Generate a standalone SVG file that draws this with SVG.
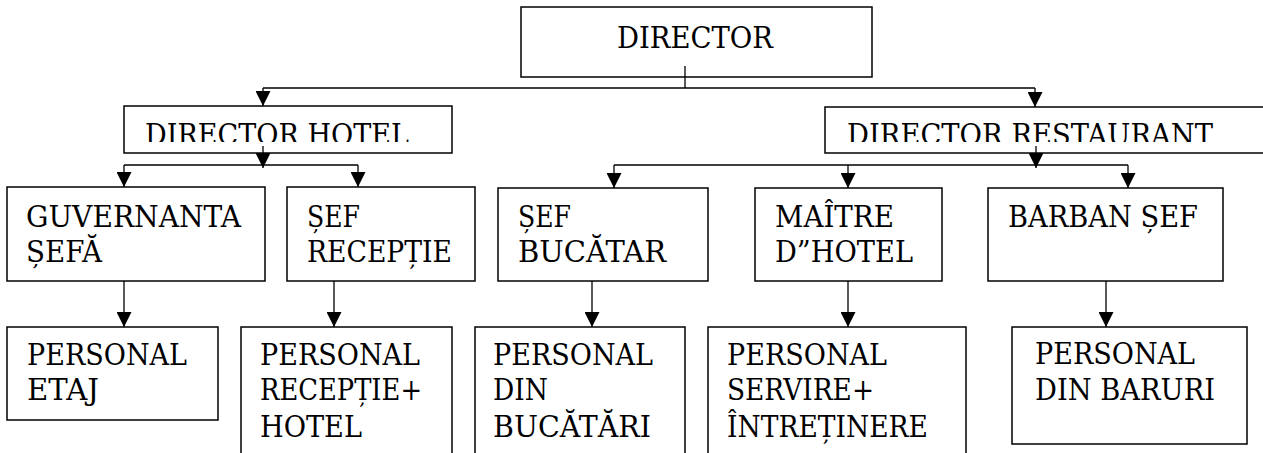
<svg xmlns="http://www.w3.org/2000/svg" width="1263" height="453" viewBox="0 0 1263 453">
  <style>
    .box { fill: #ffffff; stroke: #000000; stroke-width: 1.5; }
    .lbl { font-family: 'DejaVu Serif', 'Liberation Serif', serif; font-size: 29px; fill: #000000; }
    .wire { fill: none; stroke: #000000; stroke-width: 1.3; }
  </style>
  <defs>
    <marker id="arrow" markerUnits="userSpaceOnUse" markerWidth="16" markerHeight="15" refX="15" refY="7.5" orient="auto">
      <path d="M0,0 L15,7.5 L0,15 Z" fill="#000000"/>
    </marker>
    <!-- text in the two director boxes is cut off just above the baseline -->
    <clipPath id="clipHotel"><rect x="124" y="106" width="328" height="36"/></clipPath>
    <clipPath id="clipRest"><rect x="825" y="107" width="440" height="35"/></clipPath>
  </defs>

  <rect width="1263" height="453" fill="#ffffff"/>

  <g id="director">
    <rect class="box" x="521" y="7" width="351" height="70"/>
    <text class="lbl" x="617" y="48" textLength="156" lengthAdjust="spacingAndGlyphs">DIRECTOR</text>
  </g>

  <g id="director-hotel">
    <rect class="box" x="124" y="106" width="328" height="47"/>
    <text class="lbl" x="145" y="145" clip-path="url(#clipHotel)" textLength="264" lengthAdjust="spacingAndGlyphs">DIRECTOR HOTEL</text>
  </g>

  <g id="director-restaurant">
    <rect class="box" x="825" y="107" width="460" height="46"/>
    <text class="lbl" x="847" y="145" clip-path="url(#clipRest)" textLength="366" lengthAdjust="spacingAndGlyphs">DIRECTOR RESTAURANT</text>
  </g>

  <g id="guvernanta">
    <rect class="box" x="7" y="187" width="258" height="94"/>
    <text class="lbl" x="26" y="227" textLength="215" lengthAdjust="spacingAndGlyphs">GUVERNANTA</text>
    <text class="lbl" x="26" y="262" textLength="76" lengthAdjust="spacingAndGlyphs">ȘEFĂ</text>
  </g>

  <g id="sef-receptie">
    <rect class="box" x="287" y="187" width="188" height="94"/>
    <text class="lbl" x="307" y="227" textLength="53" lengthAdjust="spacingAndGlyphs">ȘEF</text>
    <text class="lbl" x="307" y="262" textLength="145" lengthAdjust="spacingAndGlyphs">RECEPȚIE</text>
  </g>

  <g id="sef-bucatar">
    <rect class="box" x="498" y="188" width="210" height="93"/>
    <text class="lbl" x="518" y="227" textLength="53" lengthAdjust="spacingAndGlyphs">ȘEF</text>
    <text class="lbl" x="518" y="262" textLength="148" lengthAdjust="spacingAndGlyphs">BUCĂTAR</text>
  </g>

  <g id="maitre">
    <rect class="box" x="755" y="188" width="187" height="93"/>
    <text class="lbl" x="775" y="227" textLength="119" lengthAdjust="spacingAndGlyphs">MAÎTRE</text>
    <text class="lbl" x="775" y="262" textLength="138" lengthAdjust="spacingAndGlyphs">D”HOTEL</text>
  </g>

  <g id="barban-sef">
    <rect class="box" x="988" y="188" width="235" height="93"/>
    <text class="lbl" x="1008" y="227" textLength="190" lengthAdjust="spacingAndGlyphs">BARBAN ȘEF</text>
  </g>

  <g id="personal-etaj">
    <rect class="box" x="7" y="327" width="211" height="93"/>
    <text class="lbl" x="27" y="365" textLength="160" lengthAdjust="spacingAndGlyphs">PERSONAL</text>
    <text class="lbl" x="27" y="400" textLength="72" lengthAdjust="spacingAndGlyphs">ETAJ</text>
  </g>

  <g id="personal-receptie">
    <rect class="box" x="241" y="327" width="211" height="150"/>
    <text class="lbl" x="260" y="365" textLength="160" lengthAdjust="spacingAndGlyphs">PERSONAL</text>
    <text class="lbl" x="260" y="400" textLength="162" lengthAdjust="spacingAndGlyphs">RECEPȚIE+</text>
    <text class="lbl" x="260" y="437" textLength="102" lengthAdjust="spacingAndGlyphs">HOTEL</text>
  </g>

  <g id="personal-bucatarii">
    <rect class="box" x="475" y="327" width="210" height="150"/>
    <text class="lbl" x="493" y="365" textLength="160" lengthAdjust="spacingAndGlyphs">PERSONAL</text>
    <text class="lbl" x="493" y="400" textLength="55" lengthAdjust="spacingAndGlyphs">DIN</text>
    <text class="lbl" x="493" y="437" textLength="158" lengthAdjust="spacingAndGlyphs">BUCĂTĂRI</text>
  </g>

  <g id="personal-servire">
    <rect class="box" x="708" y="327" width="258" height="150"/>
    <text class="lbl" x="727" y="365" textLength="160" lengthAdjust="spacingAndGlyphs">PERSONAL</text>
    <text class="lbl" x="727" y="400" textLength="147" lengthAdjust="spacingAndGlyphs">SERVIRE+</text>
    <text class="lbl" x="727" y="437" textLength="201" lengthAdjust="spacingAndGlyphs">ÎNTREȚINERE</text>
  </g>

  <g id="personal-baruri">
    <rect class="box" x="1012" y="327" width="235" height="117"/>
    <text class="lbl" x="1035" y="364" textLength="160" lengthAdjust="spacingAndGlyphs">PERSONAL</text>
    <text class="lbl" x="1035" y="400" textLength="180" lengthAdjust="spacingAndGlyphs">DIN BARURI</text>
  </g>

  <g id="connectors">
    <!-- director to the two division heads -->
    <path class="wire" d="M685,66 V88"/>
    <path class="wire" d="M263,88 H1035"/>
    <path class="wire" d="M263,88 V106" marker-end="url(#arrow)"/>
    <path class="wire" d="M1035,88 V107" marker-end="url(#arrow)"/>

    <!-- hotel branch -->
    <path class="wire" d="M263,146 V168" marker-end="url(#arrow)"/>
    <path class="wire" d="M124,165 H358"/>
    <path class="wire" d="M124,165 V187" marker-end="url(#arrow)"/>
    <path class="wire" d="M358,165 V187" marker-end="url(#arrow)"/>

    <!-- restaurant branch -->
    <path class="wire" d="M1036,146 V168" marker-end="url(#arrow)"/>
    <path class="wire" d="M614,165 H1128"/>
    <path class="wire" d="M614,165 V188" marker-end="url(#arrow)"/>
    <path class="wire" d="M848,165 V188" marker-end="url(#arrow)"/>
    <path class="wire" d="M1128,165 V188" marker-end="url(#arrow)"/>

    <!-- heads to staff -->
    <path class="wire" d="M124,281 V327" marker-end="url(#arrow)"/>
    <path class="wire" d="M334,281 V327" marker-end="url(#arrow)"/>
    <path class="wire" d="M592,281 V327" marker-end="url(#arrow)"/>
    <path class="wire" d="M848,281 V327" marker-end="url(#arrow)"/>
    <path class="wire" d="M1106,281 V327" marker-end="url(#arrow)"/>
  </g>
</svg>
